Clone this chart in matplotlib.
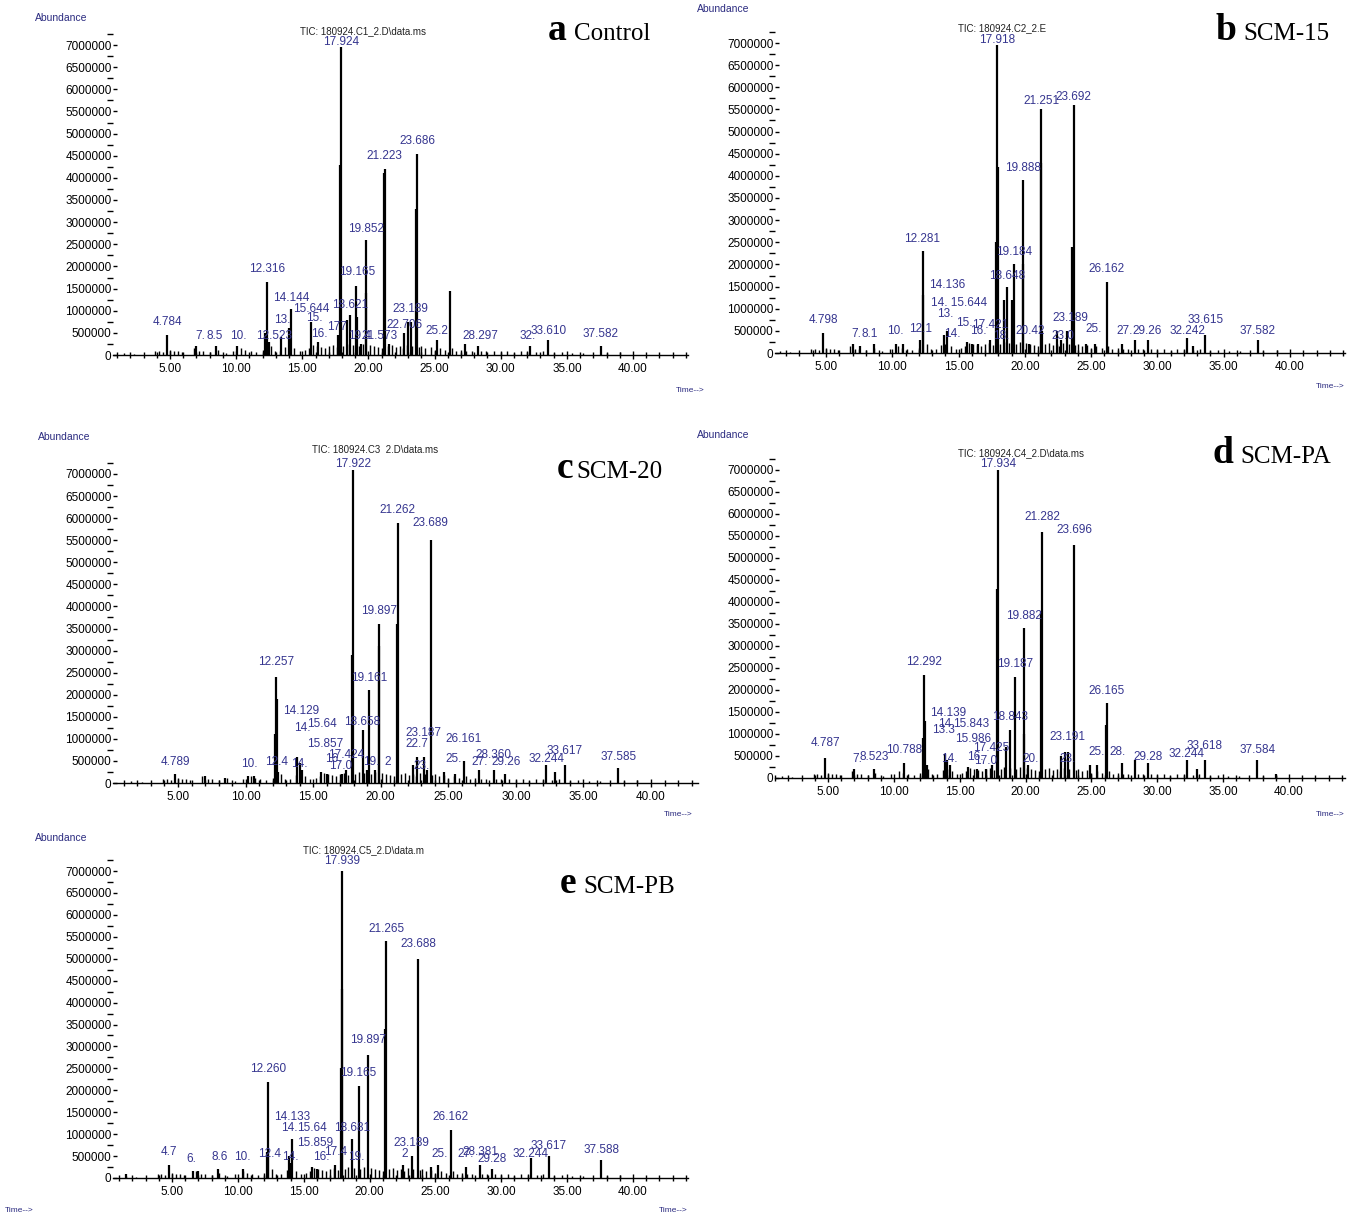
import numpy as np
import matplotlib
matplotlib.use("Agg")
import matplotlib.pyplot as plt
from matplotlib.ticker import MultipleLocator, FixedLocator

plt.rcParams['font.family'] = ['Liberation Sans', 'DejaVu Sans']

W, H = 1358, 1216

# ---- data (times in min, heights in millions of counts) ----
# small baseline peaks, roughly the same in every run
minor_t = [1.5, 2.3, 3.9, 4.2, 4.5, 5.0, 5.3, 5.6, 5.9, 6.8, 7.2, 7.5, 8.0, 8.6, 9.2, 9.8,
           10.4, 10.7, 11.1, 11.5, 12.0, 12.6, 12.9, 13.3, 13.7, 14.0, 14.4, 14.8, 15.2, 15.5,
           15.8, 16.1, 16.4, 16.7, 17.0, 17.3, 17.6, 18.1, 18.4, 18.8, 19.3, 19.6, 20.1, 20.4,
           20.7, 21.0, 21.5, 21.8, 22.1, 22.4, 22.6, 22.9, 23.3, 23.8, 24.0, 24.3, 24.7, 25.0,
           25.4, 25.8, 26.3, 26.6, 27.0, 27.4, 27.8, 28.5, 28.9, 29.5, 30.0, 30.5, 31.0, 31.5,
           32.0, 32.7, 33.2, 34.0, 34.6, 35.4, 36.2, 38.0, 39.0]
minor_h = [0.04, 0.03, 0.08, 0.1, 0.06, 0.12, 0.08, 0.1, 0.06, 0.15, 0.1, 0.08, 0.06, 0.12, 0.05, 0.08,
           0.15, 0.12, 0.1, 0.06, 0.12, 0.2, 0.1, 0.08, 0.18, 0.2, 0.15, 0.1, 0.12, 0.15,
           0.22, 0.2, 0.18, 0.15, 0.2, 0.22, 0.18, 0.2, 0.25, 0.22, 0.2, 0.25, 0.22, 0.2,
           0.18, 0.15, 0.2, 0.22, 0.18, 0.2, 0.15, 0.22, 0.2, 0.18, 0.2, 0.15, 0.18, 0.12,
           0.15, 0.12, 0.15, 0.1, 0.12, 0.1, 0.08, 0.1, 0.08, 0.1, 0.06, 0.08, 0.05, 0.08,
           0.1, 0.06, 0.08, 0.05, 0.06, 0.05, 0.04, 0.05, 0.06]

# panel a - Control
a_peak_t = [4.784, 7.0, 8.5, 10.1, 12.2, 12.316, 12.5, 13.4, 14.0, 14.144, 15.644, 16.2, 17.7,
            17.85, 17.924, 18.4, 18.621, 19.05, 19.165, 19.421, 19.8, 19.852, 21.15, 21.223,
            21.573, 22.706, 23.0, 23.189, 23.6, 23.686, 25.2, 26.157, 27.3, 28.297, 32.2,
            33.610, 37.582]
a_peak_h = [0.45, 0.2, 0.2, 0.2, 0.5, 1.65, 0.3, 0.4, 0.6, 1.05, 0.75, 0.3, 0.45,
            4.3, 6.95, 0.8, 0.9, 1.55, 0.85, 0.25, 1.4, 2.6, 4.1, 4.2,
            0.25, 0.5, 0.75, 0.75, 3.3, 4.55, 0.35, 1.45, 0.25, 0.2, 0.2,
            0.35, 0.2]
a_lab_t = [4.784, 7.3, 8.4, 10.2, 12.316, 12.9, 13.5, 14.144, 15.644, 15.9, 16.3, 17.6, 17.924,
           18.621, 19.165, 19.3, 19.852, 20.8, 21.223, 22.706, 23.189, 23.686, 25.2, 28.5,
           32.0, 33.610, 37.582]
a_lab_y = [0.55, 0.25, 0.25, 0.25, 1.75, 0.25, 0.6, 1.1, 0.85, 0.65, 0.3, 0.45, 6.88,
           0.95, 1.7, 0.25, 2.65, 0.25, 4.3, 0.5, 0.85, 4.65, 0.35, 0.25,
           0.25, 0.35, 0.3]
a_lab = ['4.784', '7.', '8.5', '10.', '12.316', '12.523', '13.', '14.144', '15.644', '15.', '16.',
         '177', '17.924', '18.621', '19.165', '19.4', '19.852', '21.573', '21.223', '22.706',
         '23.189', '23.686', '25.2', '28.297', '32.', '33.610', '37.582']

# panel b - SCM-15
b_peak_t = [4.798, 7.0, 7.6, 8.6, 10.3, 10.8, 12.1, 12.28, 12.35, 13.9, 14.14, 15.6, 16.0,
            16.5, 17.4, 17.85, 17.918, 17.95, 18.4, 18.65, 19.0, 19.18, 19.85, 19.888, 20.3,
            21.2, 21.251, 21.3, 22.4, 22.7, 23.189, 23.55, 23.692, 24.6, 25.3, 26.162, 27.3,
            28.3, 29.26, 32.242, 32.7, 33.615, 37.582]
b_peak_h = [0.45, 0.2, 0.15, 0.2, 0.2, 0.2, 0.3, 2.3, 1.3, 0.4, 0.5, 0.25, 0.2,
            0.2, 0.3, 2.5, 6.95, 4.2, 1.2, 1.5, 1.2, 2.0, 2.0, 3.9, 0.2,
            4.3, 5.5, 0.5, 0.5, 0.3, 0.5, 2.4, 5.6, 0.2, 0.2, 1.6, 0.2,
            0.3, 0.3, 0.35, 0.15, 0.4, 0.3]
b_lab_t = [4.798, 7.3, 8.3, 10.2, 12.1, 12.281, 14.136, 15.0, 14.0, 15.4, 17.421, 14.5, 16.5,
           18.2, 17.918, 18.648, 19.184, 19.888, 20.4, 21.251, 23.4, 23.692, 22.9, 25.2, 27.5,
           29.26, 32.242, 33.615, 37.582, 26.162]
b_lab_y = [0.55, 0.25, 0.25, 0.3, 0.35, 2.4, 1.35, 0.95, 0.7, 0.5, 0.45, 0.25, 0.3,
           0.2, 6.88, 1.55, 2.1, 4.0, 0.3, 5.5, 0.6, 5.6, 0.2, 0.35, 0.3,
           0.3, 0.3, 0.55, 0.3, 1.7]
b_lab = ['4.798', '7.', '8.1', '10.', '12.1', '12.281', '14.136', '14. 15.644', '13.', '15.',
         '17.421', '14.', '16.', '18.', '17.918', '18.648', '19.184', '19.888', '20.42', '21.251',
         '23.189', '23.692', '23.0', '25.', '27.', '29.26', '32.242', '33.615', '37.582', '26.162']

# panel c - SCM-20
c_peak_t = [4.789, 7.0, 8.5, 10.2, 10.6, 12.2, 12.257, 12.3, 12.4, 13.8, 14.0, 14.2, 15.6,
            16.0, 17.1, 17.424, 17.85, 17.922, 18.658, 19.0, 19.161, 19.6, 19.85, 19.897,
            21.2, 21.262, 22.4, 22.7, 23.187, 23.4, 23.689, 24.7, 25.5, 26.161, 27.3, 28.36,
            29.2, 32.244, 32.9, 33.617, 37.585]
c_peak_h = [0.2, 0.15, 0.12, 0.15, 0.15, 1.1, 2.4, 1.9, 0.25, 0.6, 0.45, 0.3, 0.25,
            0.2, 0.2, 0.3, 2.9, 7.1, 1.2, 0.3, 2.1, 0.3, 3.1, 3.6,
            3.6, 5.9, 0.4, 0.6, 0.6, 0.3, 5.5, 0.25, 0.2, 0.5, 0.3, 0.3,
            0.2, 0.4, 0.25, 0.4, 0.35]
c_lab_t = [4.789, 10.3, 12.3, 14.0, 12.257, 14.129, 14.2, 15.64, 15.857, 17.424, 17.0, 16.5,
           17.922, 18.658, 19.161, 19.897, 19.3, 20.5, 21.262, 23.689, 23.187, 22.7, 23.0,
           26.161, 25.4, 27.3, 28.360, 29.26, 32.244, 33.617, 37.585]
c_lab_y = [0.3, 0.25, 0.3, 0.25, 2.55, 1.45, 1.05, 1.15, 0.7, 0.45, 0.2, 0.35,
           7.05, 1.2, 2.2, 3.7, 0.3, 0.3, 6.0, 5.7, 0.95, 0.7, 0.2,
           0.8, 0.35, 0.3, 0.45, 0.3, 0.35, 0.55, 0.4]
c_lab = ['4.789', '10.', '12.4', '14.', '12.257', '14.129', '14.', '15.64', '15.857', '17.424',
         '17.0', '16.', '17.922', '18.658', '19.161', '19.897', '19.', '2', '21.262', '23.689',
         '23.187', '22.7', '23.', '26.161', '25.', '27.', '28.360', '29.26', '32.244', '33.617',
         '37.585']

# panel d - SCM-PA
d_peak_t = [4.787, 7.0, 8.5, 10.788, 12.2, 12.292, 12.35, 12.5, 13.9, 14.05, 14.3, 15.6, 16.3,
            17.0, 17.425, 17.85, 17.934, 18.5, 18.843, 19.187, 19.85, 19.882, 20.2, 21.2,
            21.282, 22.7, 23.0, 23.191, 23.696, 24.9, 25.4, 26.1, 26.165, 27.3, 28.3, 29.28,
            32.244, 33.0, 33.618, 37.584, 39.0]
d_peak_h = [0.45, 0.2, 0.2, 0.35, 0.9, 2.35, 1.3, 0.3, 0.55, 0.4, 0.3, 0.25, 0.2,
            0.2, 0.3, 4.3, 7.0, 0.7, 1.1, 2.3, 1.0, 3.4, 0.3, 3.8,
            5.6, 0.5, 0.6, 0.6, 5.3, 0.3, 0.3, 1.2, 1.7, 0.35, 0.4, 0.35,
            0.4, 0.2, 0.4, 0.4, 0.1]
d_lab_t = [4.787, 7.2, 8.523, 10.788, 12.292, 14.139, 13.8, 15.843, 14.0, 15.986, 17.425, 14.2,
           17.0, 16.2, 17.934, 18.843, 19.187, 19.882, 20.4, 21.282, 23.696, 23.191, 23.2,
           25.4, 27.0, 29.28, 32.244, 33.618, 37.584, 26.165]
d_lab_y = [0.6, 0.25, 0.3, 0.45, 2.45, 1.3, 0.9, 1.05, 1.05, 0.7, 0.5, 0.25,
           0.2, 0.3, 6.95, 1.2, 2.4, 3.5, 0.25, 5.75, 5.45, 0.75, 0.25,
           0.4, 0.4, 0.3, 0.35, 0.55, 0.45, 1.8]
d_lab = ['4.787', '7.', '8.523', '10.788', '12.292', '14.139', '13.3', '15.843', '14.',
         '15.986', '17.425', '14.', '17.0', '16.', '17.934', '18.843', '19.187', '19.882', '20.',
         '21.282', '23.696', '23.191', '23.', '25.', '28.', '29.28', '32.244', '33.618', '37.584',
         '26.165']

# panel e - SCM-PB
e_peak_t = [1.5, 4.78, 6.6, 7.0, 8.5, 10.4, 12.2, 12.260, 12.3, 13.9, 14.0, 14.133, 15.6, 16.0,
            17.4, 17.85, 17.90, 17.939, 18.681, 19.165, 19.897, 21.2, 21.265, 22.5, 23.189,
            23.688, 24.7, 25.2, 26.162, 27.3, 28.381, 29.3, 32.244, 33.617, 37.588]
e_peak_h = [0.1, 0.3, 0.15, 0.15, 0.2, 0.2, 0.6, 2.2, 0.6, 0.5, 0.35, 0.9, 0.25, 0.2,
            0.3, 2.5, 4.3, 7.0, 0.9, 2.1, 2.8, 3.4, 5.4, 0.3, 0.5,
            5.0, 0.25, 0.3, 1.1, 0.25, 0.3, 0.2, 0.45, 0.5, 0.4]
e_lab_t = [4.78, 6.5, 8.6, 10.3, 12.4, 14.0, 16.3, 12.260, 14.133, 13.9, 15.64, 15.859, 17.4,
           17.939, 18.681, 19.165, 19.897, 19.0, 21.265, 23.688, 23.189, 22.7, 25.3, 26.162,
           27.3, 28.381, 29.28, 32.244, 33.617, 37.588]
e_lab_y = [0.4, 0.25, 0.3, 0.3, 0.35, 0.3, 0.3, 2.3, 1.2, 0.95, 0.95, 0.6, 0.4,
           7.03, 0.95, 2.2, 2.95, 0.3, 5.5, 5.15, 0.6, 0.35, 0.35, 1.2,
           0.35, 0.4, 0.25, 0.35, 0.55, 0.45]
e_lab = ['4.7', '6.', '8.6', '10.', '12.4', '14.', '16.', '12.260', '14.133', '14.', '15.64',
         '15.859', '17.4', '17.939', '18.681', '19.165', '19.897', '19.', '21.265', '23.688',
         '23.189', '2', '25.', '26.162', '27.', '28.381', '29.28', '32.244', '33.617', '37.588']

panels = [
    # letter, name, TIC text, peaks, labels
    ('a', 'Control', 'TIC: 180924.C1_2.D\\data.ms', a_peak_t, a_peak_h, a_lab_t, a_lab_y, a_lab),
    ('b', 'SCM-15', 'TIC: 180924.C2_2.E', b_peak_t, b_peak_h, b_lab_t, b_lab_y, b_lab),
    ('c', 'SCM-20', 'TIC: 180924.C3  2.D\\data.ms', c_peak_t, c_peak_h, c_lab_t, c_lab_y, c_lab),
    ('d', 'SCM-PA', 'TIC: 180924.C4_2.D\\data.ms', d_peak_t, d_peak_h, d_lab_t, d_lab_y, d_lab),
    ('e', 'SCM-PB', 'TIC: 180924.C5_2.D\\data.m', e_peak_t, e_peak_h, e_lab_t, e_lab_y, e_lab),
]

# pixel geometry of each panel: axis left, axis right, y of 0, y of 7000000, x of 5.00, x of 40.00
geom = [
    (113, 688, 355, 45, 170, 633),
    (775, 1345, 353, 43, 826, 1290),
    (113, 698, 783, 474, 178, 651),
    (775, 1345, 778, 470, 828, 1289),
    (113, 688, 1178, 871, 172, 633),
]
# extra text positions (pixels): Abundance, TIC, letter, name, Time-->
text_pos = [
    ((35, 18), (300, 31), (548, 40), (574, 40), (705, 390)),
    ((697, 9), (958, 28), (1215, 40), (1243, 40), (1345, 387)),
    ((38, 437), (312, 450), (557, 478), (576, 478), (693, 814)),
    ((697, 435), (958, 453), (1212, 463), (1240, 463), (1345, 814)),
    ((35, 838), (303, 850), (560, 893), (583, 893), (688, 1211)),
]

blue = '#35358f'
ymax = 7.35

fig = plt.figure(figsize=(W / 100, H / 100), dpi=100)


def fx(x):
    return x / W


def fy(y):
    return 1 - y / H


for (letter, name, tic, pt, ph, lt, ly, lab), g, tp in zip(panels, geom, text_pos):
    left, right, y0, y7, x5, x40 = g
    per_min = (x40 - x5) / 35.0
    xmin = 5 + (left - x5) / per_min
    xmax = 5 + (right - x5) / per_min
    top = y0 - (y0 - y7) * ymax / 7.0
    ax = fig.add_axes([fx(left), fy(y0), (right - left) / W, (y0 - top) / H])
    ax.set_xlim(xmin, xmax)
    ax.set_ylim(0, ymax)

    ax.vlines(minor_t, 0, minor_h, color='black', lw=1.0)
    ax.vlines(pt, 0, ph, color='black', lw=1.6)
    for t, y, s in zip(lt, ly, lab):
        ax.text(t, y + 0.05, s, ha='center', va='bottom', fontsize=8.5, color=blue)

    for sp in ['top', 'right', 'left']:
        ax.spines[sp].set_visible(False)
    ax.spines['bottom'].set_linewidth(1.0)

    ax.xaxis.set_major_locator(FixedLocator([5, 10, 15, 20, 25, 30, 35, 40]))
    ax.xaxis.set_minor_locator(MultipleLocator(1))
    ax.set_xticklabels(['%.2f' % v for v in [5, 10, 15, 20, 25, 30, 35, 40]])
    ax.tick_params(axis='x', which='major', direction='inout', length=6, width=1, labelsize=8.5,
                   pad=3, colors='black')
    ax.tick_params(axis='x', which='minor', direction='inout', length=4, width=1)

    ax.yaxis.set_major_locator(FixedLocator(np.arange(0, 7.01, 0.5)))
    ax.yaxis.set_minor_locator(FixedLocator(np.arange(0.25, 7.3, 0.5)))
    ax.set_yticklabels(['%d' % round(v * 1e6) for v in np.arange(0, 7.01, 0.5)])
    ax.tick_params(axis='y', which='major', direction='in', length=3, width=1, labelsize=8.5, pad=1)
    ax.tick_params(axis='y', which='minor', direction='out', length=4, width=1)

    ab, tc, lp, np_, tm = tp
    fig.text(fx(ab[0]), fy(ab[1]), 'Abundance', fontsize=7.5, color='#2b2b80', va='center')
    fig.text(fx(tc[0]), fy(tc[1]), tic, fontsize=7, color='#222222', va='center')
    fig.text(fx(lp[0]), fy(lp[1]), letter, fontsize=27, fontweight='bold',
             family='Liberation Serif', va='baseline')
    fig.text(fx(np_[0]), fy(np_[1]), name, fontsize=18, family='Liberation Serif', va='baseline')
    fig.text(fx(tm[0]), fy(tm[1]), 'Time-->', fontsize=6, color='#2b2b80', ha='right', va='center')

fig.text(fx(5), fy(1211), 'Time-->', fontsize=6, color='#2b2b80', va='center')

fig.savefig('out.png', dpi=100)
